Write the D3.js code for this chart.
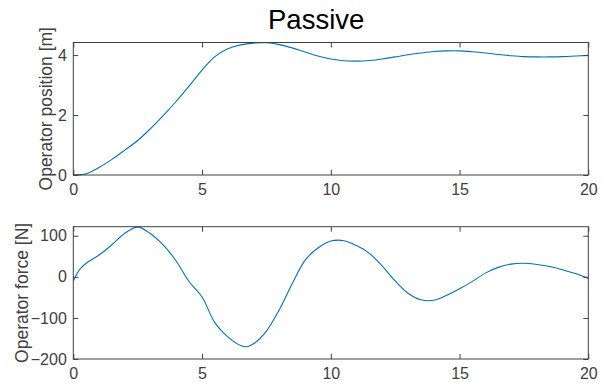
<!DOCTYPE html>
<html>
<head>
<meta charset="utf-8">
<script src="https://cdn.jsdelivr.net/npm/d3@7"></script>
<style>
  body { margin: 0; background: #fff; }
  svg { display: block; font-family: "Liberation Sans", Arial, sans-serif; }
</style>
</head>
<body>
<script>
// position series (top panel)
const posTime = [0, 0.5, 1, 1.5, 2, 2.5, 3, 3.5, 4, 4.5, 5, 5.5, 6, 6.5, 7, 7.5, 8, 8.5, 9, 9.5,
    10, 10.5, 11, 11.5, 12, 12.5, 13, 13.5, 14, 14.5, 15, 15.5, 16, 16.5, 17, 17.5, 18, 18.5, 19, 19.5, 20];
const position = [0, 0.04, 0.25, 0.52, 0.83, 1.15, 1.55, 1.99, 2.46, 2.97, 3.50, 3.95, 4.21, 4.34, 4.40, 4.41,
    4.35, 4.24, 4.10, 3.97, 3.87, 3.81, 3.80, 3.82, 3.87, 3.94, 4.01, 4.07, 4.12, 4.14, 4.14, 4.11,
    4.07, 4.02, 3.98, 3.95, 3.94, 3.94, 3.95, 3.97, 3.99];

// force series (bottom panel)
const forceTime = [0, 0.25, 0.5, 1, 1.5, 2, 2.5, 3, 3.5, 4, 4.5, 5, 5.5, 6, 6.5, 6.75, 7, 7.5, 8, 8.5, 9, 9.5,
    10, 10.5, 11, 11.5, 12, 12.5, 13, 13.5, 14, 14.5, 15, 15.5, 16, 16.5, 17, 17.5, 18, 18.5, 19, 19.5, 20];
const force = [-10, 18, 33, 53, 78, 106, 121, 105, 77, 38, -12, -49, -112, -146, -167, -170, -163, -132, -80, -17, 40, 70,
    87, 88, 76, 57, 26, -10, -40, -56, -57, -45, -29, -11, 9, 23, 31, 33, 30, 25, 17, 8, -4];

const xTicks = [0, 5, 10, 15, 20];
const posTicks = [0, 2, 4];
const forceTicks = [-200, -100, 0, 100];

const width = 603, height = 383;
const axisColor = "#404040";
const lineColor = "#0072BD";

const svg = d3.select("body").append("svg")
    .attr("width", width)
    .attr("height", height);

svg.append("text")
    .attr("x", 268)
    .attr("y", 28.5)
    .attr("font-size", 27.5)
    .attr("fill", "#000")
    .text("Passive");

function panel(top, bottom, times, values, yDomain, yTicks, label, labelX) {
    const x = d3.scaleLinear().domain([0, 20]).range([73.3, 588.3]);
    const y = d3.scaleLinear().domain(yDomain).range([bottom, top]);
    const g = svg.append("g");

    const line = d3.line()
        .x((d, i) => x(times[i]))
        .y(d => y(d))
        .curve(d3.curveCatmullRom.alpha(0.5));

    g.append("path")
        .datum(values)
        .attr("fill", "none")
        .attr("stroke", lineColor)
        .attr("stroke-width", 1.1)
        .attr("d", line);

    // box with inward ticks on all four sides
    const bottomAxis = d3.axisBottom(x).tickValues(xTicks).tickSize(-5).tickPadding(8.5).tickFormat(d3.format("d"));
    const topAxis = d3.axisTop(x).tickValues(xTicks).tickSize(-5).tickFormat("");
    const leftAxis = d3.axisLeft(y).tickValues(yTicks).tickSize(-5).tickPadding(6.5).tickFormat(d3.format("d"));
    const rightAxis = d3.axisRight(y).tickValues(yTicks).tickSize(-5).tickFormat("");

    const styleAxis = sel => {
        sel.selectAll("path, line").attr("stroke", axisColor);
        sel.selectAll("text").attr("fill", axisColor).attr("font-size", 16)
            .attr("font-family", "'Liberation Sans', Arial, sans-serif");
    };

    g.append("g").attr("transform", `translate(0,${bottom})`).call(bottomAxis).call(styleAxis);
    g.append("g").attr("transform", `translate(0,${top})`).call(topAxis).call(styleAxis);
    g.append("g").attr("transform", `translate(${x.range()[0]},0)`).call(leftAxis).call(styleAxis);
    g.append("g").attr("transform", `translate(${x.range()[1]},0)`).call(rightAxis).call(styleAxis);
    g.selectAll(".domain").remove();

    g.append("rect")
        .attr("x", x.range()[0]).attr("y", top)
        .attr("width", x.range()[1] - x.range()[0]).attr("height", bottom - top)
        .attr("fill", "none").attr("stroke", axisColor).attr("stroke-width", 1);

    g.append("text")
        .attr("transform", `translate(${labelX},${(top + bottom) / 2}) rotate(-90)`)
        .attr("text-anchor", "middle")
        .attr("font-size", 17.5)
        .attr("fill", axisColor)
        .text(label);
}

panel(42.5, 175, posTime, position, [0, 4.42], posTicks, "Operator position [m]", 51.5);
panel(226.7, 359, forceTime, force, [-200, 122], forceTicks, "Operator force [N]", 28);
</script>
</body>
</html>
